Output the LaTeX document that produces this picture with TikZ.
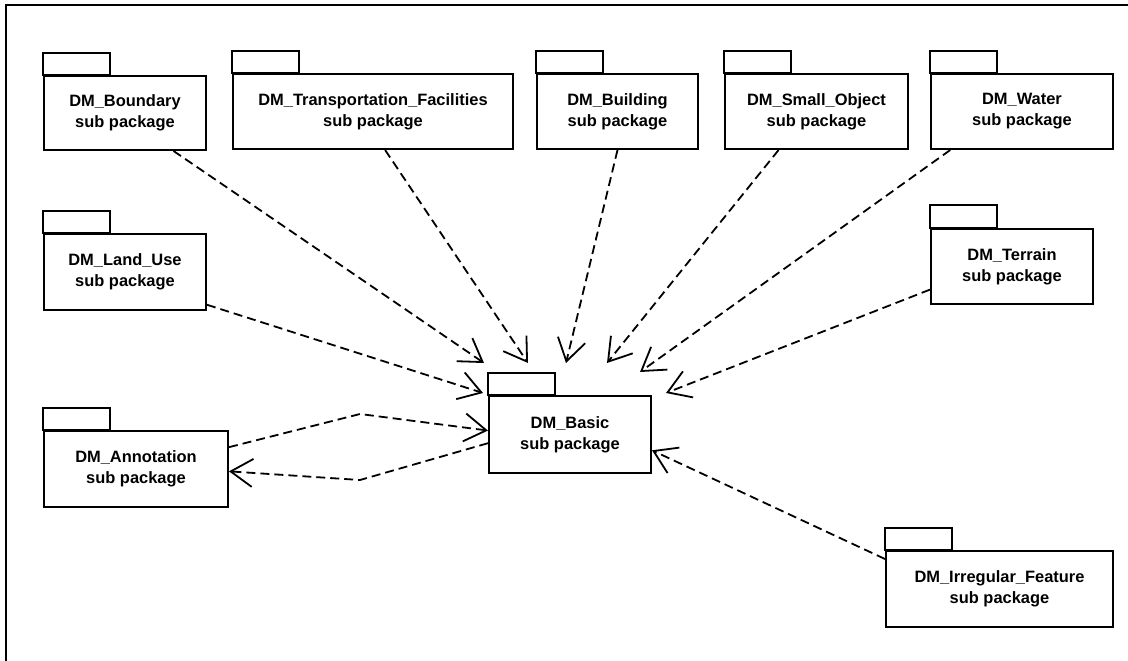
\documentclass[tikz,border=0pt]{standalone}
\usepackage{fontspec}
\setmainfont{Liberation Sans}
\usetikzlibrary{arrows.meta,calc}

\tikzset{
  pkgline/.style={draw, line width=2bp},
  pkgbody/.style={pkgline, fill=white, anchor=north west, inner sep=0pt,
    align=center, font=\bfseries\fontsize{16.5}{21}\selectfont},
  dep/.style={line width=1.8bp, dash pattern=on 9bp off 5bp,
    -{Straight Barb[length=22bp,width=28bp]}},
}

% package symbol: tab on top, labelled body below
% #1 name, #2 left, #3 body top, #4 right, #5 bottom, #6 tab top, #7 label
\newcommand\pkgsym[7]{%
  \draw[pkgline] (#2,#6) rectangle (#2+67,#3);
  \node[pkgbody, minimum width={(#4-#2)*1bp}, minimum height={(#5-#3)*1bp}]
    (#1) at (#2,#3) {#7};
}

\begin{document}
\begin{tikzpicture}[x=1bp, y=-1bp]
\useasboundingbox (0,0) rectangle (1128,661);

% outer frame (left and top edges)
\draw[line width=2bp] (6,661) -- (6,5.5) -- (1128,5.5);

% packages
\pkgsym{boundary}{43}{75}{205}{149}{53}{DM\_Boundary\\sub package}
\pkgsym{transport}{232}{73}{512}{148}{51}{DM\_Transportation\_Facilities\\sub package}
\pkgsym{building}{536}{73}{697}{148}{51}{DM\_Building\\sub package}
\pkgsym{smallobj}{724}{73}{907}{148}{51}{DM\_Small\_Object\\sub package}
\pkgsym{water}{930}{73}{1112}{148}{51}{DM\_Water\\sub package}
\pkgsym{landuse}{43}{233}{205}{309}{211}{DM\_Land\_Use\\sub package}
\pkgsym{terrain}{930}{228}{1092}{303}{205}{DM\_Terrain\\sub package}
\pkgsym{annot}{43}{430}{227}{506}{408}{DM\_Annotation\\sub package}
\pkgsym{basic}{488}{395}{650}{472}{373}{DM\_Basic\\sub package}
\pkgsym{irreg}{885}{550}{1112}{626}{528}{DM\_Irregular\_Feature\\sub package}

% free arrow ends around DM_Basic
\coordinate (tBoundary) at (484,363);
\coordinate (tTransport) at (528,363);
\coordinate (tBuilding) at (566,363);
\coordinate (tSmallObj) at (607,363);
\coordinate (tWater) at (640,372);
\coordinate (tTerrain) at (666,393);
\coordinate (tLandUse) at (483,393);
\coordinate (bendA) at (360,414);
\coordinate (bendB) at (360,480);

% dependencies
\draw[dep] ($(boundary.south west)!0.796!(boundary.south east)$) -- (tBoundary);
\draw[dep] ($(transport.south west)!0.543!(transport.south east)$) -- (tTransport);
\draw[dep] ($(building.south west)!0.50!(building.south east)$) -- (tBuilding);
\draw[dep] ($(smallobj.south west)!0.295!(smallobj.south east)$) -- (tSmallObj);
\draw[dep] ($(water.south west)!0.11!(water.south east)$) -- (tWater);
\draw[dep] ($(landuse.north east)!0.92!(landuse.south east)$) -- (tLandUse);
\draw[dep] ($(terrain.north west)!0.8!(terrain.south west)$) -- (tTerrain);
\draw[dep] ($(annot.north east)!0.22!(annot.south east)$) -- (bendA)
  -- ($(basic.north west)!0.45!(basic.south west)$);
\draw[dep] ($(basic.north west)!0.61!(basic.south west)$) -- (bendB)
  -- ($(annot.north east)!0.53!(annot.south east)$);
\draw[dep] ($(irreg.north west)+(0,9)$) -- ($(basic.north east)!0.7!(basic.south east)$);

\end{tikzpicture}
\end{document}
